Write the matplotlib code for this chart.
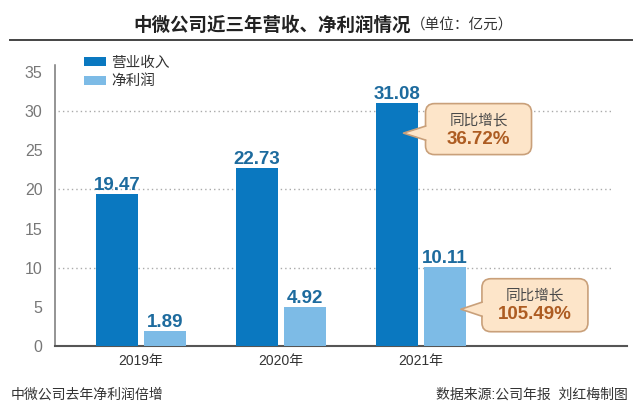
#!/usr/bin/env python3

import matplotlib.pyplot as plt
import numpy as np
from matplotlib.lines import Line2D
from matplotlib.patches import FancyBboxPatch, Polygon
from matplotlib.transforms import IdentityTransform


years = ["2019年", "2020年", "2021年"]
revenue = [19.47, 22.73, 31.08]
net_profit = [1.89, 4.92, 10.11]
growth_labels = ["36.72%", "105.49%"]

DARK_BLUE = "#0a78c0"
LIGHT_BLUE = "#7dbbe6"
VALUE_COLOR = "#1d6b9e"
BOX_FILL = "#fde5c9"
BOX_EDGE = "#c9a07a"
PCT_COLOR = "#ad5c22"

CJK = ["Liberation Sans", "Noto Sans CJK SC"]

W, H = 640, 417


def fx(px):
    return px / W


def fy(py):
    # image pixel row (from top) to figure fraction
    return 1 - py / H


def callout(ax, tip, dx, width, height, value):
    """Speech bubble whose tail points at `tip` (data coords)."""
    fig = ax.figure
    ident = IdentityTransform()
    tx, ty = ax.transData.transform(tip)
    left = tx + dx
    cy = ty + 4
    bottom = cy - height / 2
    top = cy + height / 2

    box = FancyBboxPatch(
        (left, bottom), width, height,
        boxstyle="round,pad=0,rounding_size=9",
        facecolor=BOX_FILL, edgecolor=BOX_EDGE, linewidth=1.2,
        transform=ident, zorder=5,
    )
    fig.add_artist(box)

    tail = Polygon(
        [(left + 2, ty + 7), (tx, ty), (left + 2, ty - 7)],
        closed=True, facecolor=BOX_FILL, edgecolor="none",
        transform=ident, zorder=6,
    )
    fig.add_artist(tail)
    fig.add_artist(Line2D(
        [left, tx, left], [ty + 7, ty, ty - 7],
        color=BOX_EDGE, linewidth=1.2, transform=ident, zorder=7,
    ))

    cx = left + width / 2
    fig.text(cx / W, (top - 17) / H, "同比增长", ha="center", va="center",
             fontsize=10.5, color="#4a4a4a", family=CJK, zorder=8)
    fig.text(cx / W, (top - 36) / H, value, ha="center", va="center",
             fontsize=13.5, color=PCT_COLOR, fontweight="bold",
             family=CJK, zorder=8)


def main():
    fig = plt.figure(figsize=(6.4, 4.17), dpi=100)

    # axes box: y-axis at x=55 px, zero line at y=346 px, top at 65 px
    ax = fig.add_axes([fx(55), fy(346), fx(627 - 55), (346 - 65) / H])

    x = np.arange(len(years))
    bar_w = 0.3
    offset = 0.17

    ax.bar(x - offset, revenue, width=bar_w, color=DARK_BLUE,
           label="营业收入", zorder=3)
    ax.bar(x + offset, net_profit, width=bar_w, color=LIGHT_BLUE,
           label="净利润", zorder=3)

    for xi, v in zip(x - offset, revenue):
        ax.text(xi, v, f"{v:.2f}", ha="center", va="bottom",
                fontsize=13.5, fontweight="bold", color=VALUE_COLOR,
                family=CJK, zorder=4)
    for xi, v in zip(x + offset, net_profit):
        ax.text(xi, v, f"{v:.2f}", ha="center", va="bottom",
                fontsize=13.5, fontweight="bold", color=VALUE_COLOR,
                family=CJK, zorder=4)

    ax.set_xlim(-0.614, 3.471)
    ax.set_ylim(0, 35.9)

    ax.set_yticks(np.arange(0, 36, 5))
    ax.set_xticks(x)
    ax.set_xticklabels(years, family=CJK, fontsize=10, color="#333333")
    ax.tick_params(axis="y", length=0, pad=9, labelsize=11.5,
                   labelcolor="#777777")
    ax.tick_params(axis="x", length=0, pad=6)
    for label in ax.get_yticklabels():
        label.set_family(CJK)

    for s in ["top", "right"]:
        ax.spines[s].set_visible(False)
    ax.spines["left"].set_color("#777777")
    ax.spines["left"].set_linewidth(1.1)
    ax.spines["bottom"].set_color("#555555")
    ax.spines["bottom"].set_linewidth(1.5)

    for g in (10, 20, 30):
        ax.axhline(g, xmin=0.005, xmax=0.976, color="#aaaaaa",
                   linewidth=1, linestyle=(0, (1, 2.2)), zorder=1)

    ax.legend(
        loc="upper left", bbox_to_anchor=(fx(84), fy(56)),
        bbox_transform=fig.transFigure, frameon=False,
        prop={"family": CJK, "size": 10.5}, labelcolor="#333333",
        handlelength=1.5, handleheight=0.55, handletextpad=0.35,
        labelspacing=0.3, borderpad=0, borderaxespad=0,
    )

    # growth callouts pointing at the 2021 bars
    callout(ax, (x[2] - offset + 0.045, 27.2), 22, 106, 51, growth_labels[0])
    callout(ax, (x[2] + offset + 0.115, 4.7), 21, 106, 53, growth_labels[1])

    # title and rule
    fig.text(fx(133), fy(25), "中微公司近三年营收、净利润情况",
             ha="left", va="center", fontsize=13.3, fontweight="bold",
             color="#222222", family=CJK)
    fig.text(fx(411), fy(25.5), "（单位：亿元）", ha="left", va="center",
             fontsize=10.5, color="#333333",
             family=["Noto Sans CJK SC", "DejaVu Sans"])
    fig.add_artist(Line2D([fx(10), fx(632)], [fy(40), fy(40)],
                          color="#444444", linewidth=1.4,
                          transform=fig.transFigure))

    # footer
    fig.text(fx(11), fy(395), "中微公司去年净利润倍增", ha="left",
             va="center", fontsize=10, color="#333333", family=CJK)
    fig.text(fx(628), fy(395), "数据来源:公司年报  刘红梅制图", ha="right",
             va="center", fontsize=10, color="#333333", family=CJK)

    fig.savefig("out.png", dpi=100)
    plt.close(fig)


if __name__ == "__main__":
    main()
